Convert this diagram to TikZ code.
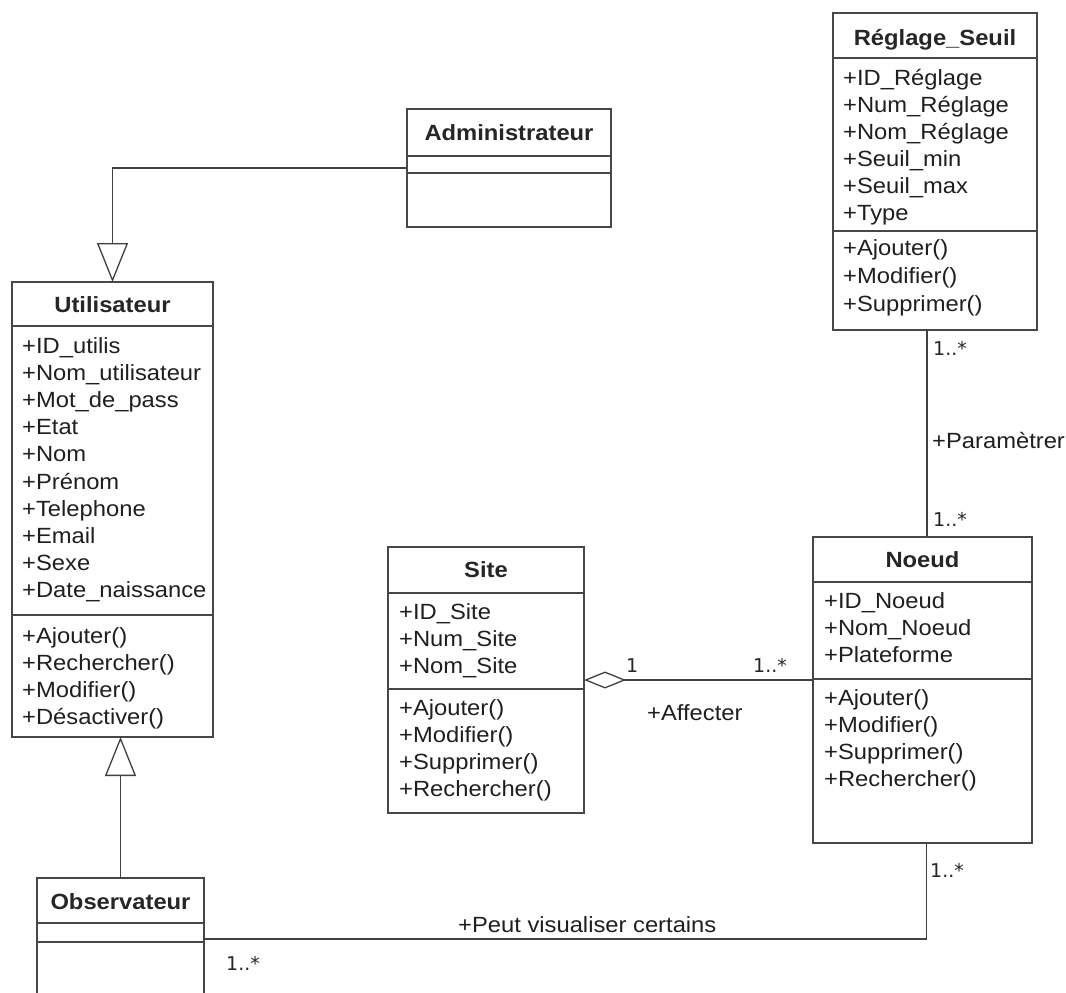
\documentclass[tikz,border=0pt]{standalone}
\usepackage{fontspec}
\setmainfont{Liberation Sans}[FakeStretch=1.08]
\newfontfamily\multfont{DejaVu Sans}
\usetikzlibrary{arrows.meta}

\tikzset{
  umlbox/.style={draw=black!72, line width=1.3pt, fill=white, inner sep=0pt,
    outer sep=0pt, anchor=north west},
  umlsep/.style={draw=black!72, line width=1.3pt},
  umltitle/.style={font=\fontsize{22}{26}\selectfont\bfseries, text=black!85,
    anchor=base, inner sep=0pt},
  umlmember/.style={font=\fontsize{22}{26}\selectfont, text=black!88,
    anchor=base west, inner sep=0pt},
  umlmult/.style={font=\multfont\fontsize{19}{22}\selectfont, text=black!85,
    anchor=base west, inner sep=0pt},
  umlassoc/.style={draw=black!75, line width=1.3pt},
  umlgen/.style={umlassoc, -{Triangle[open, width=31pt, length=39pt, line width=1.3pt]}},
  umlagg/.style={umlassoc, {Diamond[open, length=42pt, width=17pt, line width=1.3pt]}-},
}

% class box: name, x, y (top left), width, height, title, title baseline
\newcommand\umlclass[7]{%
  \node[umlbox, minimum width=#4pt, minimum height=#5pt] (#1) at (#2,#3) {};
  \node[umltitle] (#1-title) at ({#2+#4/2},#7) {#6};}
% horizontal compartment line of a class at height y
\newcommand\umlline[2]{\draw[umlsep] (#1.west |- 0,#2) -- (#1.east |- 0,#2);}
% list of members: prefix, x, first baseline, line step, entries
\newcommand\umlmembers[5]{%
  \foreach \memb [count=\i from 0] in {#5}
    {\node[umlmember] (#1-\i) at (#2,{#3+#4*\i}) {\memb};}}

\begin{document}
\begin{tikzpicture}[x=1pt,y=-1pt]
  \clip (0,0) rectangle (1066,993);
  \useasboundingbox (0,0) rectangle (1066,993);
  \fill[white] (0,0) rectangle (1066,993);

  % Administrateur
  \umlclass{admin}{407}{109}{204}{118}{Administrateur}{140}
  \umlline{admin}{156}
  \umlline{admin}{173}

  % Reglage_Seuil
  \umlclass{reglage}{833}{13}{204}{317}{Réglage\_Seuil}{45}
  \umlline{reglage}{58}
  \umlline{reglage}{231}
  \umlmembers{reglage-a}{843}{85}{27}{+ID\_Réglage,+Num\_Réglage,+Nom\_Réglage,+Seuil\_min,+Seuil\_max,+Type}
  \umlmembers{reglage-m}{843}{255}{28}{+Ajouter(),+Modifier(),+Supprimer()}

  % Utilisateur
  \umlclass{util}{12}{282}{201}{455}{Utilisateur}{312}
  \umlline{util}{326}
  \umlline{util}{615}
  \umlmembers{util-a}{22}{353}{27.2}{+ID\_utilis,+Nom\_utilisateur,+Mot\_de\_pass,+Etat,+Nom,+Prénom,+Telephone,+Email,+Sexe,+Date\_naissance}
  \umlmembers{util-m}{22}{643}{27.3}{+Ajouter(),+Rechercher(),+Modifier(),+Désactiver()}

  % Site
  \umlclass{site}{388}{547}{196}{266}{Site}{577}
  \umlline{site}{593}
  \umlline{site}{689}
  \umlmembers{site-a}{399}{619}{27}{+ID\_Site,+Num\_Site,+Nom\_Site}
  \umlmembers{site-m}{399}{715}{27}{+Ajouter(),+Modifier(),+Supprimer(),+Rechercher()}

  % Noeud
  \umlclass{noeud}{813}{537}{219}{306}{Noeud}{567}
  \umlline{noeud}{582}
  \umlline{noeud}{679}
  \umlmembers{noeud-a}{824}{608}{27}{+ID\_Noeud,+Nom\_Noeud,+Plateforme}
  \umlmembers{noeud-m}{824}{705}{27}{+Ajouter(),+Modifier(),+Supprimer(),+Rechercher()}

  % Observateur
  \umlclass{obs}{37}{878}{167}{122}{Observateur}{909}
  \umlline{obs}{923}
  \umlline{obs}{942}

  % generalisations
  \draw[umlgen] (admin.west) -| (util.north);
  \draw[umlgen] (obs.north) -- (obs.north |- util.south);

  % Parametrer
  \draw[umlassoc] ([xshift=-8pt]reglage.south) -- ([xshift=-8pt]reglage.south |- noeud.north);
  \node[umlmult] (m-reg1) at (933,355) {1..*};
  \node[umlmult] (m-reg2) at (933,526) {1..*};
  \node[umlmember] (l-param) at (932,448) {+Paramètrer};

  % Affecter
  \draw[umlagg] (site.east) -- (site.east -| noeud.west);
  \node[umlmult] (m-site) at (626,672) {1};
  \node[umlmult] (m-noeud) at (753,672) {1..*};
  \node[umlmember] (l-aff) at (647,720) {+Affecter};

  % Peut visualiser certains
  \draw[umlassoc] (obs.east) -| ([xshift=4pt]noeud.south);
  \node[umlmult] (m-obs) at (226,970) {1..*};
  \node[umlmult] (m-noeud2) at (930,877) {1..*};
  \node[umlmember] (l-visu) at (458,932) {+Peut visualiser certains};
\end{tikzpicture}
\end{document}
